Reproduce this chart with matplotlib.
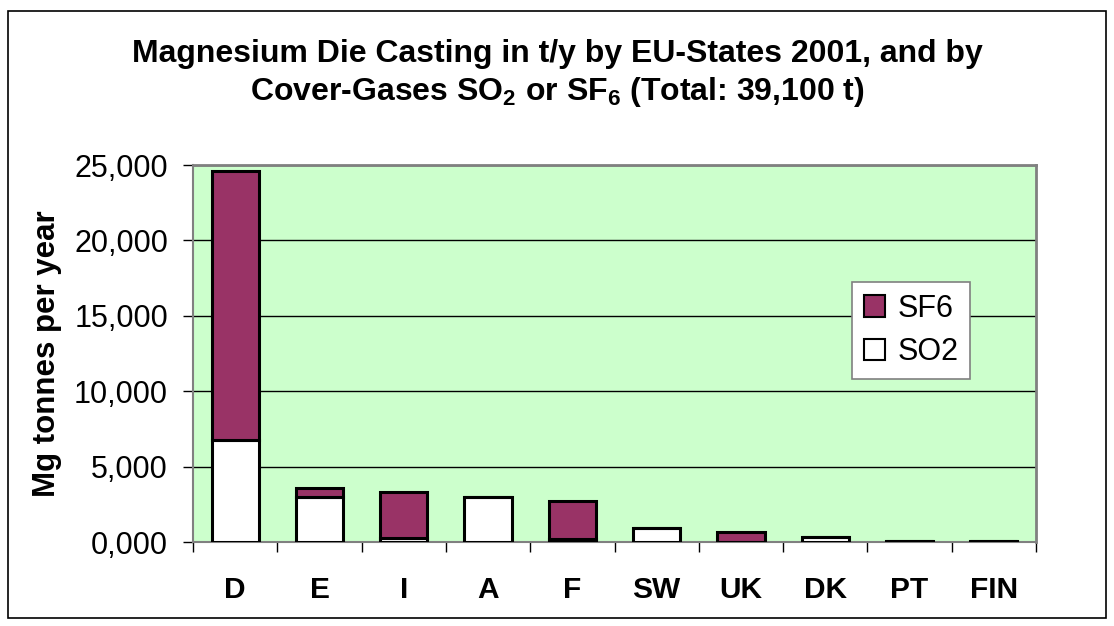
import matplotlib
matplotlib.use("Agg")
import matplotlib.pyplot as plt
from matplotlib.ticker import FuncFormatter, MultipleLocator
from matplotlib.patches import Rectangle

plt.rcParams['font.family'] = ['Liberation Sans', 'DejaVu Sans']
plt.rcParams['mathtext.fontset'] = 'custom'
plt.rcParams['mathtext.rm'] = 'Liberation Sans:bold'
plt.rcParams['mathtext.bf'] = 'Liberation Sans:bold'

countries = ['D', 'E', 'I', 'A', 'F', 'SW', 'UK', 'DK', 'PT', 'FIN']
so2 = [6800, 3000, 270, 3000, 220, 930, 30, 330, 100, 60]
sf6 = [17800, 620, 3060, 0, 2520, 0, 670, 0, 0, 0]

fig = plt.figure(figsize=(11.14, 6.26), dpi=100)
ax = fig.add_axes([0.1733, 0.1337, 0.7567, 0.6027])

# outer frame like the excel chart area
fig.patches.append(Rectangle((0.007, 0.013), 0.986, 0.97, transform=fig.transFigure,
                             fill=False, edgecolor='black', linewidth=1.2))

x = range(len(countries))
ax.set_facecolor('#CCFFCC')
ax.bar(x, so2, width=0.56, color='white', edgecolor='black', linewidth=2.2, label='SO2', zorder=3)
ax.bar(x, sf6, width=0.56, bottom=so2, color='#993366', edgecolor='black', linewidth=2.2,
       label='SF6', zorder=3)

ax.set_xlim(-0.5, len(countries) - 0.5)
ax.set_ylim(0, 25000)
ax.yaxis.set_major_locator(MultipleLocator(5000))
ax.yaxis.set_major_formatter(FuncFormatter(lambda v, p: '0,000' if v == 0 else f'{int(v):,}'))
ax.grid(axis='y', color='black', linewidth=1, zorder=1)

ax.set_xticks([i - 0.5 for i in range(len(countries) + 1)], minor=False)
ax.set_xticklabels([])
ax.set_xticks(list(x), minor=True)
ax.set_xticklabels(countries, minor=True, fontsize=21.5, fontweight='bold')
ax.tick_params(axis='x', which='minor', length=0, pad=24)
ax.tick_params(axis='x', which='major', length=7, width=1, direction='out', color='black')
ax.tick_params(axis='y', length=7, width=1, direction='out', labelsize=22, pad=11)

for s in ['top', 'right']:
    ax.spines[s].set_color('#808080')
    ax.spines[s].set_linewidth(2)
ax.spines['left'].set_color('#808080')
ax.spines['left'].set_linewidth(1.5)
ax.spines['bottom'].set_color('#808080')
ax.spines['bottom'].set_linewidth(1.5)

ax.set_ylabel('Mg tonnes per year', fontsize=22.5, fontweight='bold', labelpad=9)

fig.text(0.5, 0.914, 'Magnesium Die Casting in t/y by EU-States 2001, and by',
         ha='center', va='center', fontsize=23, fontweight='bold')
fig.text(0.5, 0.853, r'Cover-Gases SO$_\mathbf{2}$ or SF$_\mathbf{6}$ (Total: 39,100 t)',
         ha='center', va='center', fontsize=23, fontweight='bold')

h, l = ax.get_legend_handles_labels()
leg = ax.legend(h[::-1], l[::-1], loc='upper left', bbox_to_anchor=(0.782, 0.69),
                fontsize=22, frameon=True, fancybox=False, edgecolor='#808080', framealpha=1,
                handlelength=0.7, handleheight=0.7, handletextpad=0.4,
                borderpad=0.38, labelspacing=0.45, borderaxespad=0)
leg.get_frame().set_linewidth(1.2)
for p in leg.get_patches():
    p.set_linewidth(1.5)

fig.savefig('out.png', dpi=100)
